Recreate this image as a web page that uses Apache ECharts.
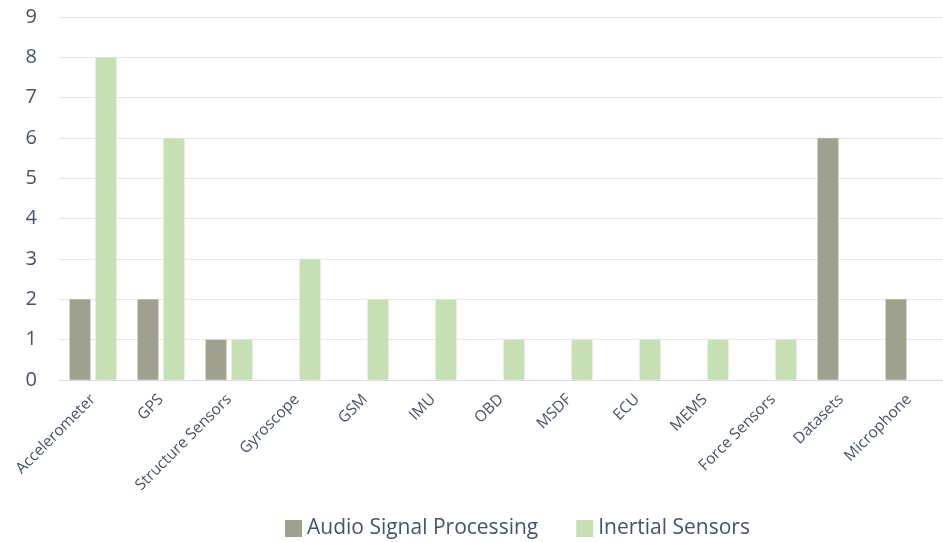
<!DOCTYPE html>
<html>
<head>
<meta charset="utf-8">
<script src="https://cdn.jsdelivr.net/npm/echarts@6/dist/echarts.min.js"></script>
<style>
  html, body { margin: 0; padding: 0; background: #ffffff; }
  #chart { width: 943px; height: 542px; }
</style>
</head>
<body>
<div id="chart"></div>
<script>
// Sensor / data source categories
const categories = [
  'Accelerometer', 'GPS', 'Structure Sensors', 'Gyroscope', 'GSM', 'IMU',
  'OBD', 'MSDF', 'ECU', 'MEMS', 'Force Sensors', 'Datasets', 'Microphone'
];
// Number of works per category
const audioSignalProcessing = [2, 2, 1, 0, 0, 0, 0, 0, 0, 0, 0, 6, 2];
const inertialSensors       = [8, 6, 1, 3, 2, 2, 1, 1, 1, 1, 1, 0, 0];
const seriesNames = ['Audio Signal Processing', 'Inertial Sensors'];
const yTicks = [0, 1, 2, 3, 4, 5, 6, 7, 8, 9];

const textColor = '#44546a';
const fontFamily = '"Open Sans", Lato, sans-serif';

const chart = echarts.init(document.getElementById('chart'), null, { renderer: 'canvas' });

// zero values are left out so no sliver is drawn
const nz = arr => arr.map(v => (v === 0 ? '-' : v));

chart.setOption({
  animation: false,
  backgroundColor: '#ffffff',
  textStyle: { fontFamily: fontFamily },
  grid: { left: 59, top: 17, width: 893, height: 363, containLabel: false },
  legend: {
    data: seriesNames,
    left: 285,
    top: 518,
    padding: 0,
    itemWidth: 17,
    itemHeight: 17,
    itemGap: 38,
    icon: 'rect',
    itemStyle: { borderWidth: 0 },
    textStyle: { color: textColor, fontSize: 21, fontFamily: fontFamily }
  },
  xAxis: {
    type: 'category',
    data: categories,
    axisLine: { show: true, lineStyle: { color: '#dcdde2', width: 1 } },
    axisTick: { show: false },
    axisLabel: {
      rotate: 45,
      interval: 0,
      margin: 17,
      color: textColor,
      fontSize: 15.5,
      fontFamily: fontFamily
    }
  },
  yAxis: {
    type: 'value',
    min: yTicks[0],
    max: yTicks[yTicks.length - 1],
    interval: 1,
    axisLine: { show: false },
    axisTick: { show: false },
    splitLine: { lineStyle: { color: '#e6e7eb', width: 1 } },
    axisLabel: {
      margin: 22,
      color: textColor,
      fontSize: 20,
      fontFamily: fontFamily
    }
  },
  series: [
    {
      name: seriesNames[0],
      type: 'bar',
      data: nz(audioSignalProcessing),
      barWidth: 21,
      barGap: '24%',
      itemStyle: { color: '#a0a08e', borderColor: '#b3b3a4', borderWidth: 0.5 }
    },
    {
      name: seriesNames[1],
      type: 'bar',
      data: nz(inertialSensors),
      barWidth: 21,
      barGap: '24%',
      itemStyle: { color: '#c6e0b4', borderColor: '#d3e8c5', borderWidth: 0.5 }
    }
  ]
});
</script>
</body>
</html>
